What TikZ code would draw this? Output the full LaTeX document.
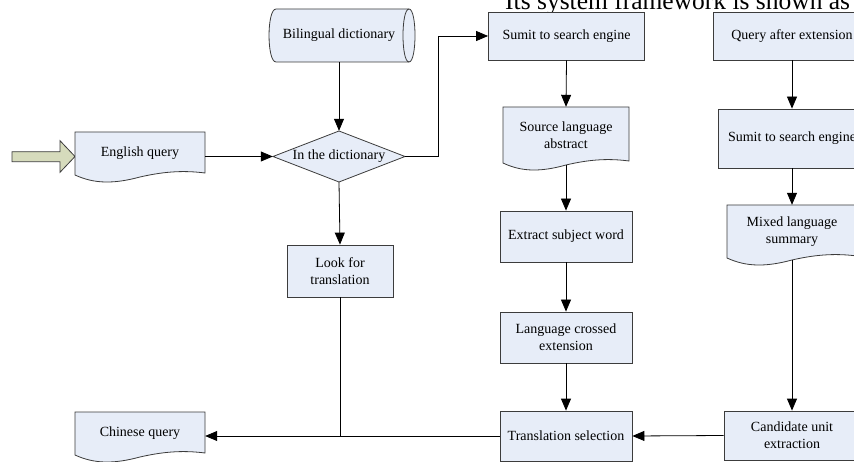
\documentclass[tikz,border=0pt]{standalone}
\usepackage{fontspec}
\setmainfont{Liberation Serif}
\usetikzlibrary{arrows.meta,calc}
\definecolor{boxfill}{RGB}{231,237,248}
\definecolor{boxline}{RGB}{60,60,60}
\definecolor{bigarrow}{RGB}{214,219,188}
\tikzset{
 box/.style={draw=boxline, fill=boxfill, line width=0.8pt, inner sep=0pt, align=center, font=\fontsize{14}{17}\selectfont},
 lbl/.style={inner sep=0pt, align=center, font=\fontsize{14}{17}\selectfont},
 outline/.style={draw=boxline, fill=boxfill, line width=0.8pt},
 arr/.style={line width=0.8pt, -{Triangle[length=12pt,width=10pt]}},
 conn/.style={line width=0.8pt},
}
% #1 name, #2 x0, #3 x1, #4 ytop, #5 ybottom(left), #6 text
\newcommand\docnode[6]{%
 \draw[outline] (#2,#4) -- (#3,#4) -- (#3,{#5-2})
   .. controls ({#2+0.85*(#3-#2)},{#5-4.5}) and ({#2+0.7*(#3-#2)},{#5-4}) .. ({#2+0.5*(#3-#2)},{#5+2})
   .. controls ({#2+0.3*(#3-#2)},{#5+9}) and ({#2+0.15*(#3-#2)},{#5+9}) .. (#2,#5) -- cycle;
 \node[lbl, minimum width={#3-#2}, minimum height={#5-#4}] (#1) at ({(#2+#3)/2},{(#4+#5)/2}) {#6};
 \coordinate (#1-b) at ({(#2+#3)/2},{#5+2});
}
\begin{document}
\begin{tikzpicture}[x=1pt,y=-1pt]
\clip (0,0) rectangle (854,462);
\fill[white] (0,0) rectangle (854,462);

% title (cut at top)
\node[anchor=base west, inner sep=0pt, font=\fontsize{25.5}{30}\selectfont] (title) at (505,10) {Its system framework is shown as};

% big input arrow
\draw[draw=boxline, fill=bigarrow, line width=0.8pt] (12,151.7) -- (60,151.7) -- (60,140.7) -- (75,156.5) -- (60,172.3) -- (60,161.7) -- (12,161.7) -- cycle;

% document shapes
\docnode{eq}{75}{205}{132}{175}{English query}
\docnode{cq}{75}{205}{412}{455}{Chinese query}
\docnode{src}{503}{629}{107}{163}{Source language\\abstract}
\docnode{mix}{727}{857}{205}{258}{Mixed language\\summary}

% bilingual dictionary (stored data)
\draw[outline] (276,9) -- (409,9) .. controls (417,9) and (417,62) .. (409,62) -- (276,62)
  .. controls (266.7,62) and (266.7,9) .. (276,9) -- cycle;
\draw[draw=boxline, line width=0.8pt] (409,9) .. controls (401,9) and (401,62) .. (409,62);
\node[lbl, minimum width=130, minimum height=53] (bil) at (339,35.5) {Bilingual dictionary};

% decision diamond
\draw[outline] (273,156.5) -- (339,131) -- (405,156.5) -- (339,182) -- cycle;
\node[lbl, minimum width=132, minimum height=51] (dia) at (339,156.5) {In the dictionary};

% process boxes
\node[box, minimum width=106, minimum height=52] (look) at (340,271) {Look for\\translation};
\node[box, minimum width=156, minimum height=48] (s1) at (566.5,36) {Sumit to search engine};
\node[box, minimum width=132, minimum height=51] (ex) at (566,236.5) {Extract subject word};
\node[box, minimum width=132, minimum height=51] (lc) at (566,337.5) {Language crossed\\extension};
\node[box, minimum width=132, minimum height=50] (tr) at (566,436) {Translation selection};
\node[box, minimum width=158, minimum height=48] (qe) at (792,36) {Query after extension};
\node[box, minimum width=148, minimum height=59] (s2) at (792,138.5) {Sumit to search engine};
\node[box, minimum width=136, minimum height=49] (cand) at (792,435.5) {Candidate unit\\extraction};

% connectors
\draw[arr] (eq.east |- dia.west) -- (dia.west);
\draw[arr] (bil.south -| dia.north) -- (dia.north);
\draw[arr] (dia.east) -- ++(33,0) |- (s1.west);
\draw[arr] (dia.south) -- (look.north);
\draw[conn] (look.south) -- (look.south |- tr.west);
\draw[arr] (tr.west) -- (tr.west -| cq.east);
\draw[arr] (s1.south) -- (src.north);
\draw[arr] (src-b) -- (ex.north);
\draw[arr] (ex.south) -- (lc.north);
\draw[arr] (lc.south) -- (tr.north);
\draw[arr] (cand.west) -- (tr.east);
\draw[arr] (qe.south) -- (s2.north);
\draw[arr] (s2.south) -- (mix.north);
\draw[arr] (mix-b) -- (cand.north);
\end{tikzpicture}
\end{document}
